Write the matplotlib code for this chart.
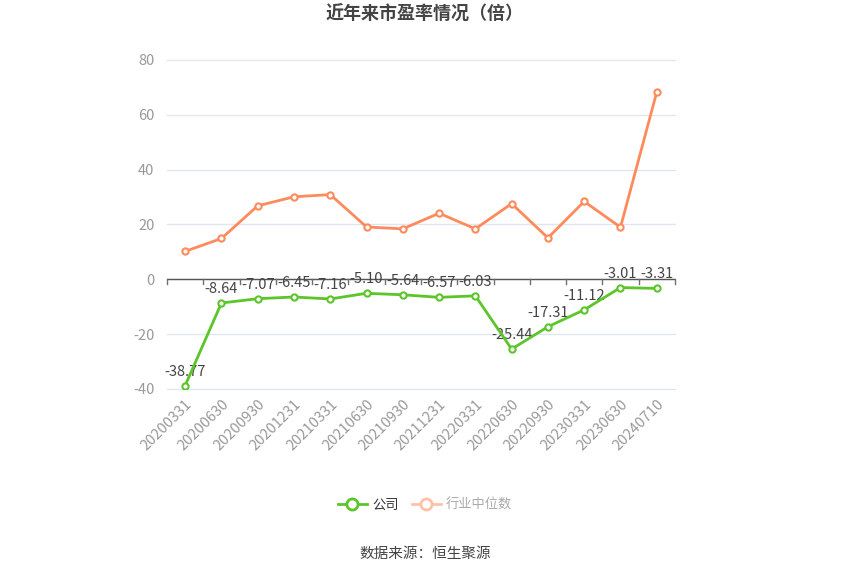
import matplotlib
matplotlib.use("Agg")
import matplotlib.pyplot as plt
from matplotlib.lines import Line2D

plt.rcParams['font.family'] = ['Noto Sans CJK SC', 'DejaVu Sans']
plt.rcParams['axes.unicode_minus'] = False

dates = ["20200331", "20200630", "20200930", "20201231", "20210331", "20210630", "20210930",
         "20211231", "20220331", "20220630", "20220930", "20230331", "20230630", "20240710"]
company = [-38.77, -8.64, -7.07, -6.45, -7.16, -5.10, -5.64, -6.57, -6.03, -25.44, -17.31, -11.12, -3.01, -3.31]
industry = [10.2, 14.9, 26.8, 30.1, 30.9, 19.1, 18.4, 24.1, 18.4, 27.6, 15.1, 28.4, 19.0, 68.3]

green = '#5CC52A'
orange = '#FF8A5C'

fig = plt.figure(figsize=(8.5, 5.75), dpi=100)
ax = fig.add_axes([0.1965, 0.3235, 0.5975, 0.5722])

x = list(range(len(dates)))
ax.plot(x, industry, color=orange, lw=2, marker='o', ms=4.5, mfc='white', mec=orange, mew=1.5, zorder=3)
ax.plot(x, company, color=green, lw=2, marker='o', ms=4.5, mfc='white', mec=green, mew=1.5, zorder=4)

for xi, v in zip(x, company):
    ax.annotate(f"{v:.2f}", (xi, v), xytext=(0, 5), textcoords='offset points',
                ha='center', va='bottom', fontsize=10.5, color='#444444')

ax.set_xlim(-0.5, len(dates) - 0.5)
ax.set_ylim(-40, 80)
ax.set_yticks([-40, -20, 0, 20, 40, 60, 80])
ax.grid(axis='y', color='#E0E6F1', lw=1, clip_on=False)
ax.set_axisbelow(True)
for s in ['top', 'right', 'left', 'bottom']:
    ax.spines[s].set_visible(False)
ax.axhline(0, color='#555555', lw=1, zorder=2)
ax.tick_params(axis='y', length=0, labelsize=10.5, labelcolor='#999999', pad=9)

ax.set_xticks(x)
ax.set_xticklabels(dates, rotation=45, ha='right', rotation_mode='anchor', fontsize=10.5, color='#999999')
ax.tick_params(axis='x', length=0, pad=6)
for b in range(len(dates) + 1):
    ax.plot([b - 0.5, b - 0.5], [0, -1.8], color='#6E7079', lw=1, zorder=2, clip_on=False)

fig.text(0.5, 0.976, "近年来市盈率情况（倍）", ha='center', va='center', fontsize=13,
         fontweight='bold', color='#444444')

handles = [
    Line2D([0], [0], color=green, lw=2, marker='o', ms=8, mfc='white', mec=green, mew=2),
    Line2D([0], [0], color='#FFC2A8', lw=2, marker='o', ms=8, mfc='white', mec='#FFC2A8', mew=2),
]
leg = fig.legend(handles, ["公司", "行业中位数"], loc='center', bbox_to_anchor=(0.5, 0.121), ncol=2,
                 frameon=False, fontsize=9.5, handlelength=2.2, columnspacing=1.0, handletextpad=0.4)
leg.get_texts()[0].set_color('#333333')
leg.get_texts()[1].set_color('#AAAAAA')

fig.text(0.5, 0.036, "数据来源：恒生聚源", ha='center', va='center', fontsize=10.5, color='#444444')

fig.savefig("out.png", dpi=100)
